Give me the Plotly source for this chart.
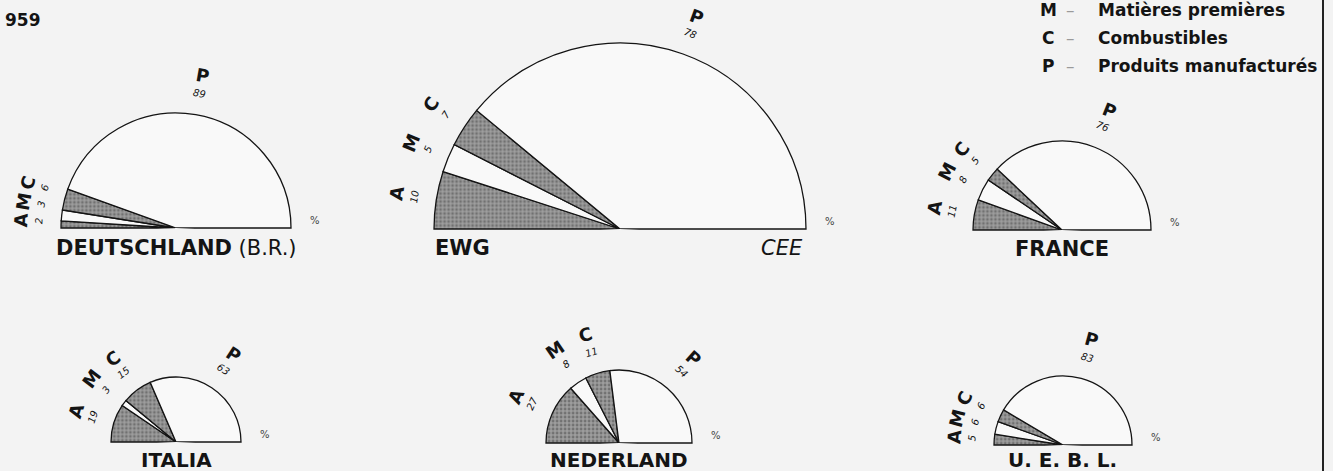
import math
import plotly.graph_objects as go

W, H = 1333, 471

# ---------------- data ----------------
categories = ["A", "M", "C", "P"]
countries = ["DEUTSCHLAND", "EWG", "FRANCE", "ITALIA", "NEDERLAND", "U. E. B. L."]
deutschland = [2, 3, 6, 89]
ewg = [10, 5, 7, 78]
france = [11, 8, 5, 76]
italia = [19, 3, 15, 63]
nederland = [27, 8, 11, 54]
uebl = [5, 6, 6, 83]
legend_keys = ["M", "C", "P"]
legend_labels = ["Matières premières", "Combustibles", "Produits manufacturés"]
year_label = "959"
unit_label = "%"

series = [deutschland, ewg, france, italia, nederland, uebl]

# ---------------- layout geometry (centre x, baseline y, radius) in px ----------------
geom = [(176, 228, 115), (620, 229, 186), (1062, 230, 89),
        (176, 442, 65), (619, 443, 73), (1063, 445, 69)]

FONT = "DejaVu Sans"
INK = "#141414"
GRAY = "#9e9e9e"
LIGHT = "#f9f9f9"
RMAX = 1.04
SECTOR = [-3, 183]
YMIN = math.sin(math.radians(3))

fig = go.Figure()
annotations = []


def px_to_paper(x, y):
    return x / W, (H - y) / H


for i, (vals, (cx, cy, r)) in enumerate(zip(series, geom)):
    key = "polar" if i == 0 else f"polar{i+1}"
    # angular positions from the values (semicircle = 100 %)
    thetas, widths, cum = [], [], 0.0
    for v in vals:
        widths.append(v * 1.8)
        thetas.append(180 - (cum + v / 2) * 1.8)
        cum += v
    fills = [GRAY if c in ("A", "C") else LIGHT for c in categories]
    shapes = ["." if c in ("A", "C") else "" for c in categories]
    fig.add_trace(go.Barpolar(
        r=[1] * len(vals), theta=thetas, width=widths,
        marker=dict(color=fills,
                    line=dict(color=INK, width=1.3),
                    pattern=dict(shape=shapes, fgcolor="#646464", size=4,
                                 solidity=0.4, fillmode="overlay")),
        subplot=key, showlegend=False, hoverinfo="text",
        text=[f"{c}: {v} %" for c, v in zip(categories, vals)],
    ))
    R = r * RMAX
    top = cy - R
    bottom = cy + R * YMIN
    fig.update_layout(**{key: dict(
        domain=dict(x=[(cx - R) / W, (cx + R) / W],
                    y=[(H - bottom) / H, (H - top) / H]),
        sector=SECTOR, bgcolor="rgba(0,0,0,0)",
        radialaxis=dict(visible=False, range=[0, RMAX]),
        angularaxis=dict(visible=False, rotation=0, direction="counterclockwise"),
        bargap=0,
    )})

    # wedge labels (letter + value), spread a little when wedges are thin
    rho_l = r + 40
    rho_n = r + 22
    sep = math.degrees(19 / rho_l)
    angs = list(thetas)
    for k in range(1, len(angs) - 1):
        if angs[k - 1] - angs[k] < sep:
            angs[k] = angs[k - 1] - sep
    if angs[0] > 177:
        shift = angs[0] - 177
        angs = [a - shift if k < len(angs) - 1 else a for k, a in enumerate(angs)]
    for c, v, a in zip(categories, vals, angs):
        rad = math.radians(a)
        lx, ly = px_to_paper(cx + rho_l * math.cos(rad), cy - rho_l * math.sin(rad))
        nx, ny = px_to_paper(cx + rho_n * math.cos(rad), cy - rho_n * math.sin(rad))
        annotations.append(dict(x=lx, y=ly, xref="paper", yref="paper", text=f"<b>{c}</b>",
                                showarrow=False, textangle=90 - a,
                                font=dict(family=FONT, size=18, color=INK),
                                xanchor="center", yanchor="middle"))
        annotations.append(dict(x=nx, y=ny, xref="paper", yref="paper", text=f"<i>{v}</i>",
                                showarrow=False, textangle=90 - a,
                                font=dict(family=FONT, size=10, color=INK),
                                xanchor="center", yanchor="middle"))
    # percent sign
    px_, py_ = px_to_paper(cx + r + 24, cy - 8)
    annotations.append(dict(x=px_, y=py_, xref="paper", yref="paper", text=unit_label,
                            showarrow=False, font=dict(family=FONT, size=10, color="#444"),
                            xanchor="center", yanchor="middle"))

# country names
name_pos = [(176, 248, "center"), (433, 248, "left"), (1062, 249, "center"),
            (176, 460, "center"), (619, 460, "center"), (1062, 460, "center")]
for i, (name, (x, y, anc)) in enumerate(zip(countries, name_pos)):
    txt = f"<b>{name}</b>"
    if i == 0:
        txt += " (B.R.)"
    ax_, ay_ = px_to_paper(x, y)
    annotations.append(dict(x=ax_, y=ay_, xref="paper", yref="paper", text=txt,
                            showarrow=False, xanchor=anc, yanchor="middle",
                            font=dict(family=FONT, size=21 if i < 3 else 20, color=INK)))
cx_, cy_ = px_to_paper(805, 248)
annotations.append(dict(x=cx_, y=cy_, xref="paper", yref="paper", text="<i>CEE</i>",
                        showarrow=False, xanchor="right", yanchor="middle",
                        font=dict(family=FONT, size=21, color=INK)))

# legend (top right)
for k, (key, lab) in enumerate(zip(legend_keys, legend_labels)):
    y = 10 + k * 28
    for x, t, anc, col in [(1048, f"<b>{key}</b>", "center", INK),
                           (1070, "–", "center", "#9a9a9a"),
                           (1096, f"<b>{lab}</b>", "left", INK)]:
        ax_, ay_ = px_to_paper(x, y)
        annotations.append(dict(x=ax_, y=ay_, xref="paper", yref="paper", text=t,
                                showarrow=False, xanchor=anc, yanchor="middle",
                                font=dict(family=FONT, size=17, color=col)))

# year fragment
ax_, ay_ = px_to_paper(3, 20)
annotations.append(dict(x=ax_, y=ay_, xref="paper", yref="paper", text=f"<b>{year_label}</b>",
                        showarrow=False, xanchor="left", yanchor="middle",
                        font=dict(family=FONT, size=17, color=INK)))

fig.update_layout(
    width=W, height=H,
    margin=dict(l=0, r=0, t=0, b=0),
    paper_bgcolor="#f3f3f3",
    plot_bgcolor="#f3f3f3",
    annotations=annotations,
    shapes=[dict(type="line", xref="paper", yref="paper",
                 x0=1323 / W, x1=1323 / W, y0=0, y1=1,
                 line=dict(color="#222", width=2))],
    showlegend=False,
)

fig.write_html("out.html",
               config={"displayModeBar": False},
               post_script="document.body.style.margin='0px';"
                           "document.body.style.overflow='hidden';")
